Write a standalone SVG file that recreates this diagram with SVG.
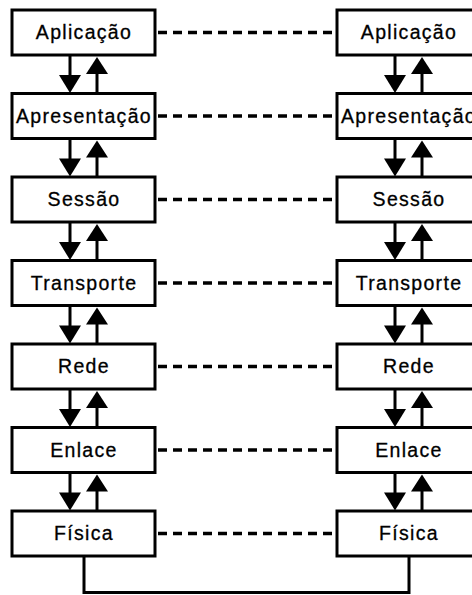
<svg xmlns="http://www.w3.org/2000/svg" width="472" height="595" viewBox="0 0 472 595">
<style>
.box{fill:#fff;stroke:#000;stroke-width:3}
.t{font-family:"Liberation Sans",Arial,sans-serif;font-size:19.5px;letter-spacing:1.3px;text-anchor:middle;fill:#000;stroke:#000;stroke-width:0.3}
.ln{stroke:#000;stroke-width:3;fill:none}
.dash{stroke:#000;stroke-width:3.5;stroke-dasharray:9 6;fill:none}
.ah{fill:#000}
</style>
<defs>
<g id="arrows">
<line class="ln" x1="58" y1="0" x2="58" y2="22"/>
<polygon class="ah" points="47,20 69,20 58,38"/>
<line class="ln" x1="85" y1="17" x2="85" y2="38"/>
<polygon class="ah" points="74,19 96,19 85,2"/>
</g>
</defs>
<g id="connectors">
<g transform="translate(12,55)"><use href="#arrows"/></g>
<g transform="translate(12,138.5)"><use href="#arrows"/></g>
<g transform="translate(12,222)"><use href="#arrows"/></g>
<g transform="translate(12,305.5)"><use href="#arrows"/></g>
<g transform="translate(12,389)"><use href="#arrows"/></g>
<g transform="translate(12,472.5)"><use href="#arrows"/></g>
<g transform="translate(337,55)"><use href="#arrows"/></g>
<g transform="translate(337,138.5)"><use href="#arrows"/></g>
<g transform="translate(337,222)"><use href="#arrows"/></g>
<g transform="translate(337,305.5)"><use href="#arrows"/></g>
<g transform="translate(337,389)"><use href="#arrows"/></g>
<g transform="translate(337,472.5)"><use href="#arrows"/></g>
<line class="dash" x1="158" y1="32.5" x2="336" y2="32.5"/>
<line class="dash" x1="158" y1="116" x2="336" y2="116"/>
<line class="dash" x1="158" y1="199.5" x2="336" y2="199.5"/>
<line class="dash" x1="158" y1="283" x2="336" y2="283"/>
<line class="dash" x1="158" y1="366.5" x2="336" y2="366.5"/>
<line class="dash" x1="158" y1="450" x2="336" y2="450"/>
<line class="dash" x1="158" y1="533.5" x2="336" y2="533.5"/>
<polyline class="ln" points="84,556 84,592.5 409,592.5 409,556"/>
</g>
<g id="left-aplicacao"><rect class="box" x="12" y="10" width="143" height="45"/><text class="t" x="84" y="39">Aplicação</text></g>
<g id="left-apresentacao"><rect class="box" x="12" y="93.5" width="143" height="45"/><text class="t" x="84" y="122.5">Apresentação</text></g>
<g id="left-sessao"><rect class="box" x="12" y="177" width="143" height="45"/><text class="t" x="84" y="206">Sessão</text></g>
<g id="left-transporte"><rect class="box" x="12" y="260.5" width="143" height="45"/><text class="t" x="84" y="289.5">Transporte</text></g>
<g id="left-rede"><rect class="box" x="12" y="344" width="143" height="45"/><text class="t" x="84" y="373">Rede</text></g>
<g id="left-enlace"><rect class="box" x="12" y="427.5" width="143" height="45"/><text class="t" x="84" y="456.5">Enlace</text></g>
<g id="left-fisica"><rect class="box" x="12" y="511" width="143" height="45"/><text class="t" x="84" y="540">Física</text></g>
<g id="right-aplicacao"><rect class="box" x="337" y="10" width="143" height="45"/><text class="t" x="409" y="39">Aplicação</text></g>
<g id="right-apresentacao"><rect class="box" x="337" y="93.5" width="143" height="45"/><text class="t" x="409" y="122.5">Apresentação</text></g>
<g id="right-sessao"><rect class="box" x="337" y="177" width="143" height="45"/><text class="t" x="409" y="206">Sessão</text></g>
<g id="right-transporte"><rect class="box" x="337" y="260.5" width="143" height="45"/><text class="t" x="409" y="289.5">Transporte</text></g>
<g id="right-rede"><rect class="box" x="337" y="344" width="143" height="45"/><text class="t" x="409" y="373">Rede</text></g>
<g id="right-enlace"><rect class="box" x="337" y="427.5" width="143" height="45"/><text class="t" x="409" y="456.5">Enlace</text></g>
<g id="right-fisica"><rect class="box" x="337" y="511" width="143" height="45"/><text class="t" x="409" y="540">Física</text></g>
</svg>
